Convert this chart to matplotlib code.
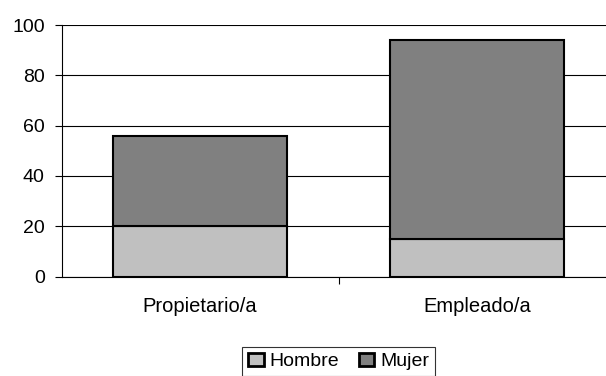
import matplotlib
matplotlib.use("Agg")
import matplotlib.pyplot as plt
import numpy as np

categories = ["Propietario/a", "Empleado/a"]
hombre = [20, 15]
mujer = [36, 79]
series_names = ["Hombre", "Mujer"]
yticks = [0, 20, 40, 60, 80, 100]

plt.rcParams["font.family"] = ["Liberation Sans", "DejaVu Sans"]

fig = plt.figure(figsize=(6.06, 3.76), dpi=100)
ax = fig.add_axes([61.5 / 606, 1 - 276.5 / 376, 554 / 606, 251.5 / 376])

x = np.arange(len(categories))
w = 0.63
ax.bar(x, hombre, w, color="#c0c0c0", edgecolor="black", linewidth=1.5, label=series_names[0], zorder=3)
ax.bar(x, mujer, w, bottom=hombre, color="#808080", edgecolor="black", linewidth=1.5, label=series_names[1], zorder=3)

ax.set_xlim(-0.5, 1.5)
ax.set_ylim(0, 100)
ax.set_yticks(yticks)
ax.yaxis.grid(True, color="black", linewidth=0.8, zorder=0)
ax.tick_params(axis="y", length=5, width=0.8, labelsize=14, pad=7)
ax.set_xticks(x)
ax.set_xticklabels(categories)
ax.tick_params(axis="x", length=0, labelsize=14.5, pad=15)
ax.set_xticks([0.5], minor=True)
ax.tick_params(axis="x", which="minor", length=5, width=0.8)
for s in ["top", "right"]:
    ax.spines[s].set_visible(False)
ax.spines["left"].set_linewidth(0.8)
ax.spines["bottom"].set_linewidth(0.8)

leg = fig.legend(loc="center", bbox_to_anchor=(338.5 / 606, 1 - 361.5 / 376), ncol=2, frameon=True,
                 fancybox=False, fontsize=14, handlelength=0.8, handleheight=0.7, handletextpad=0.3,
                 columnspacing=1.0, borderpad=0.3, borderaxespad=0)
leg.get_frame().set_edgecolor("black")
leg.get_frame().set_linewidth(0.8)
for h in leg.legend_handles:
    h.set_linewidth(2)

fig.savefig("out.png", dpi=100)
